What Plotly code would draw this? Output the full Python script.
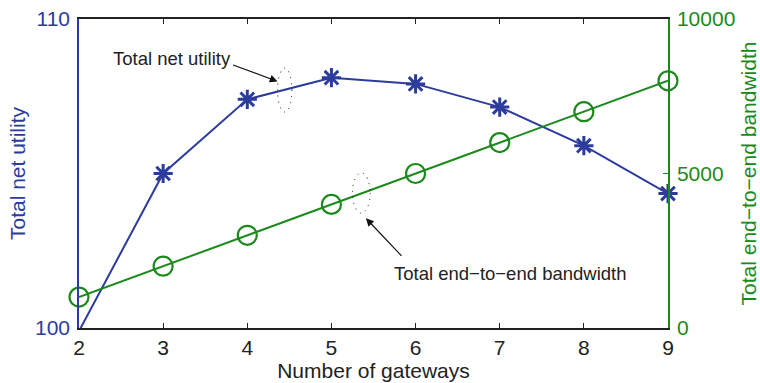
import plotly.graph_objects as go

gateways = [2, 3, 4, 5, 6, 7, 8, 9]
net_utility = [99.9, 105.0, 107.4, 108.1, 107.9, 107.15, 105.9, 104.35]
bandwidth = [1000, 2000, 3000, 4000, 5000, 6000, 7000, 8000]

util_ticks = [100, 110]
bw_ticks = [0, 5000, 10000]
bw_ticktext = ["0", "5000", "10000"]
x_ticks = [2, 3, 4, 5, 6, 7, 8, 9]

BLUE = "#2C3C9C"
GREEN = "#1B8A1B"
FONT = "Liberation Sans, Arial, Helvetica, sans-serif"

ymin, ymax = 100, 110
# markers of points outside the axis limits are not drawn (as in the source)
util_sizes = [0 if (v < ymin or v > ymax) else 16 for v in net_utility]

fig = go.Figure()
fig.add_trace(go.Scatter(
    x=gateways, y=net_utility, mode="lines+markers",
    line=dict(color=BLUE, width=2),
    marker=dict(symbol="asterisk", size=util_sizes, color=BLUE, opacity=1,
                line=dict(color=BLUE, width=3)),
    cliponaxis=False, yaxis="y", showlegend=False,
))
fig.add_trace(go.Scatter(
    x=gateways, y=bandwidth, mode="lines+markers",
    line=dict(color=GREEN, width=2),
    marker=dict(symbol="circle-open", size=19, color=GREEN,
                line=dict(color=GREEN, width=2.2)),
    cliponaxis=False, yaxis="y2", showlegend=False,
))

fig.update_layout(
    width=760, height=383,
    margin=dict(l=79, r=92, t=19, b=55, autoexpand=False),
    paper_bgcolor="white", plot_bgcolor="white",
    font=dict(family=FONT, size=21, color="#222222"),
    xaxis=dict(
        range=[2, 9], tickvals=x_ticks, ticks="inside", ticklen=5,
        tickwidth=1.2, tickcolor="#222222", automargin=False,
        showline=True, linecolor="#222222", linewidth=1.5, mirror="ticks",
        showgrid=False, zeroline=False,
        tickfont=dict(size=21, color="#222222"),
        title=dict(text="Number of gateways", font=dict(size=21, color="#222222"),
                   standoff=4),
    ),
    yaxis=dict(
        range=[ymin, ymax], tickvals=util_ticks, ticks="inside", ticklen=5,
        tickcolor=BLUE, showline=True, linecolor=BLUE, linewidth=1.5,
        showgrid=False, zeroline=False, automargin=False,
        tickfont=dict(size=21, color=BLUE), ticklabelstandoff=3,
        title=dict(text="Total net utility", font=dict(size=21, color=BLUE),
                   standoff=4),
    ),
    yaxis2=dict(
        range=[0, 10000], tickvals=bw_ticks, ticktext=bw_ticktext,
        ticks="inside", ticklen=5,
        tickcolor=GREEN, showline=True, linecolor=GREEN, linewidth=1.5,
        overlaying="y", side="right", automargin=False,
        showgrid=False, zeroline=False,
        tickfont=dict(size=21, color=GREEN), ticklabelstandoff=3,
        title=dict(text="Total end\u2212to\u2212end bandwidth",
                   font=dict(size=21, color=GREEN), standoff=10),
    ),
)

ANN_FONT = dict(family=FONT, size=18.5, color="#222222")
# labels
fig.add_annotation(x=3.1, y=108.72, xref="x", yref="y", text="Total net utility",
                   showarrow=False, font=ANN_FONT)
fig.add_annotation(x=7.12, y=101.78, xref="x", yref="y",
                   text="Total end\u2212to\u2212end bandwidth",
                   showarrow=False, font=ANN_FONT)
# arrows
fig.add_annotation(x=4.36, y=107.98, xref="x", yref="y", text="", showarrow=True,
                   ax=-46, ay=-17, arrowhead=2, arrowsize=1.3, arrowwidth=1.2,
                   arrowcolor="#111111")
fig.add_annotation(x=5.41, y=103.55, xref="x", yref="y", text="", showarrow=True,
                   ax=37, ay=39, arrowhead=2, arrowsize=1.3, arrowwidth=1.2,
                   arrowcolor="#111111")
# dotted ellipses
fig.add_shape(type="circle", xref="x", yref="y", x0=4.36, x1=4.53, y0=106.99, y1=108.41,
              line=dict(color="#111111", width=1, dash="1px,5px"))
fig.add_shape(type="circle", xref="x", yref="y", x0=5.25, x1=5.46, y0=103.72, y1=105.02,
              line=dict(color="#111111", width=1, dash="1px,5px"))

fig.write_html("out.html")
